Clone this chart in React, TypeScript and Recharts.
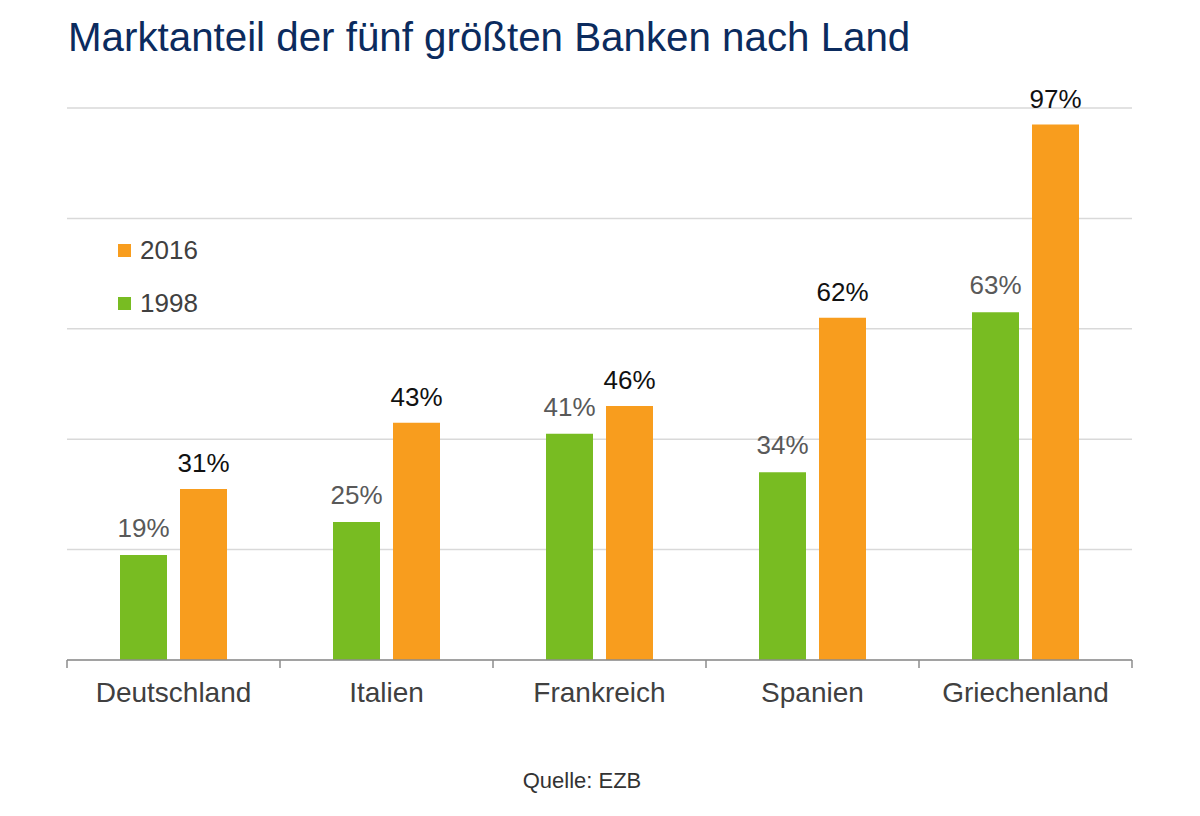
import { Bar, BarChart, CartesianGrid, LabelList, XAxis, YAxis } from "recharts";

const countries = ["Deutschland", "Italien", "Frankreich", "Spanien", "Griechenland"];
const share1998 = [19, 25, 41, 34, 63];
const share2016 = [31, 43, 46, 62, 97];
const yTicks = [0, 20, 40, 60, 80, 100];

const GREEN = "#78bc22";
const ORANGE = "#f89d1e";
const AXIS = "#8c8c8c";
const FONT = "'Liberation Sans', Arial, sans-serif";
const TICK_GAP = 22; // default tickSize 6 + tickMargin 16

const data = countries.map((name, i) => ({
  name,
  y1998: share1998[i],
  y2016: share2016[i],
}));

const pct = (v: unknown) => `${v}%`;

/** Category label plus small tick marks at the band edges (reference ticks sit between categories) */
function CategoryTick(props: any) {
  const { x, y, payload, index, visibleTicksCount } = props;
  const half = payload?.offset ?? 0;
  const axisY = y - TICK_GAP;
  const isLast = index === visibleTicksCount - 1;
  return (
    <g>
      <line x1={x - half} x2={x - half} y1={axisY} y2={axisY + 8} stroke={AXIS} strokeWidth={1.5} />
      {isLast && (
        <line x1={x + half} x2={x + half} y1={axisY} y2={axisY + 8} stroke={AXIS} strokeWidth={1.5} />
      )}
      <text x={x} y={y} dy="0.71em" textAnchor="middle" fontSize={28} fill="#404040" fontFamily={FONT}>
        {payload.value}
      </text>
    </g>
  );
}

/** Two-row legend with square markers, newest year on top like the reference */
function SquareLegend() {
  const rows = [
    { label: "2016", color: ORANGE },
    { label: "1998", color: GREEN },
  ];
  return (
    <div style={{ position: "absolute", left: 118, top: 224, fontFamily: FONT }}>
      {rows.map((r) => (
        <div key={r.label} style={{ display: "flex", alignItems: "center", height: 53 }}>
          <span style={{ width: 13, height: 13, background: r.color, marginRight: 9 }} />
          <span style={{ fontSize: 26, color: "#404040" }}>{r.label}</span>
        </div>
      ))}
    </div>
  );
}

export default function App() {
  return (
    <div
      style={{
        position: "absolute",
        left: 0,
        top: 0,
        width: 1200,
        height: 816,
        background: "#fff",
        fontFamily: FONT,
      }}
    >
      <div
        style={{
          position: "absolute",
          left: 68,
          top: 18,
          fontSize: 40.3,
          lineHeight: 1,
          color: "#0b2b5e",
          whiteSpace: "nowrap",
        }}
      >
        Marktanteil der fünf größten Banken nach Land
      </div>

      <BarChart
        width={1200}
        height={816}
        data={data}
        margin={{ top: 108, right: 68, bottom: 116, left: 67 }}
        barCategoryGap={53}
        barGap={13}
      >
        <CartesianGrid vertical={false} stroke="#d9d9d9" strokeWidth={1.5} />
        <YAxis hide domain={[0, 100]} ticks={yTicks} />
        <XAxis
          dataKey="name"
          height={40}
          axisLine={{ stroke: AXIS, strokeWidth: 1.5 }}
          tickLine={false}
          tickMargin={16}
          tick={<CategoryTick />}
          interval={0}
        />
        <Bar dataKey="y1998" name="1998" fill={GREEN} isAnimationActive={false}>
          <LabelList
            dataKey="y1998"
            position="top"
            offset={18}
            formatter={pct}
            style={{ fontSize: 26, fill: "#595959", fontFamily: FONT }}
          />
        </Bar>
        <Bar dataKey="y2016" name="2016" fill={ORANGE} isAnimationActive={false}>
          <LabelList
            dataKey="y2016"
            position="top"
            offset={17}
            formatter={pct}
            style={{ fontSize: 26, fill: "#111", fontFamily: FONT }}
          />
        </Bar>
      </BarChart>

      <SquareLegend />

      <div
        style={{
          position: "absolute",
          left: 0,
          width: 1164,
          top: 768,
          textAlign: "center",
          fontSize: 22,
          color: "#333",
        }}
      >
        Quelle: EZB
      </div>
    </div>
  );
}
